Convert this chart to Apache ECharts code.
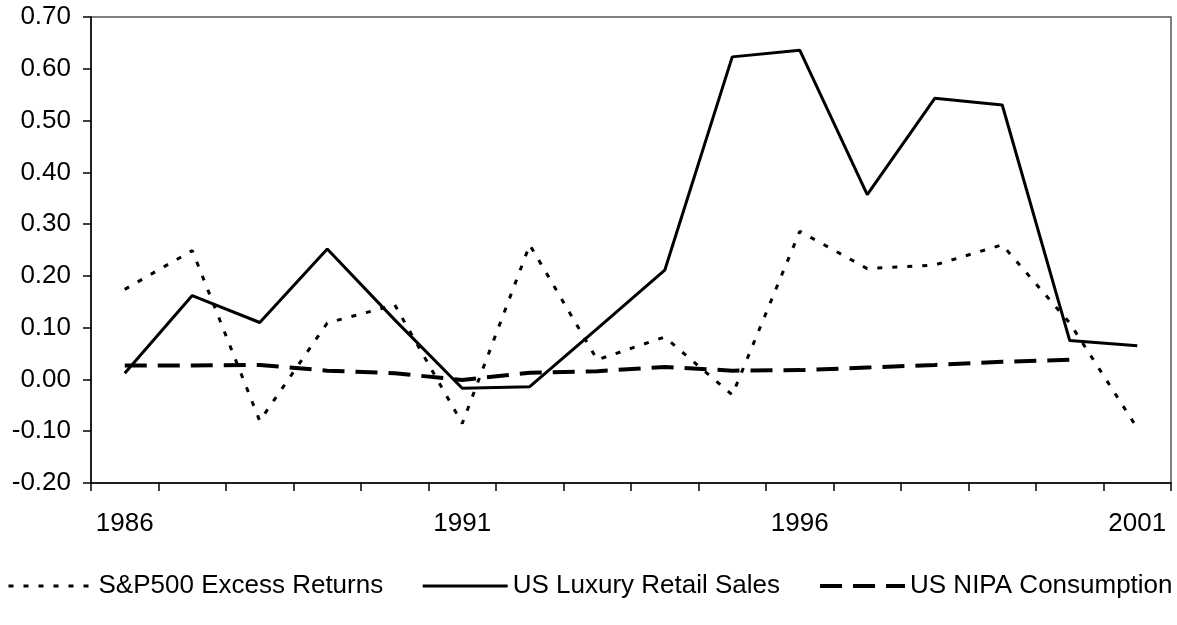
<!DOCTYPE html>
<html>
<head>
<meta charset="utf-8">
<title>Luxury sales vs returns</title>
<script src="https://cdn.jsdelivr.net/npm/echarts@6/dist/echarts.min.js"></script>
<style>
    html, body { margin: 0; padding: 0; background: #fff; }
    #main { width: 1177px; height: 625px; }
</style>
</head>
<body>
<div id="main"></div>
<script>
// ---- data
var years = ["1986","1987","1988","1989","1990","1991","1992","1993","1994","1995","1996","1997","1998","1999","2000","2001"];
var spExcess = [0.174, 0.249, -0.080, 0.109, 0.144, -0.085, 0.260, 0.038, 0.082, -0.030, 0.286, 0.214, 0.221, 0.260, 0.109, -0.094];
var luxurySales = [0.012, 0.162, 0.110, 0.252, 0.115, -0.017, -0.014, 0.098, 0.211, 0.623, 0.636, 0.357, 0.543, 0.530, 0.075, 0.065];
var nipaCons = [0.027, 0.027, 0.028, 0.017, 0.012, -0.001, 0.013, 0.016, 0.024, 0.017, 0.018, 0.023, 0.028, 0.034, 0.038, null];

var font = "'Liberation Sans', Arial, sans-serif";

// line styles, shared by series and legend
var dotStyle = { color: "#000", width: 3, type: [5, 10] };
var solidStyle = { color: "#000", width: 3, type: "solid" };
var dashStyle = { color: "#000", width: 4, type: [22, 11] };

var myChart = echarts.init(document.getElementById("main"));
var option = {
    animation: false,
    backgroundColor: "#fff",
    textStyle: { fontFamily: font, color: "#000" },
    grid: {
        left: 91, right: 6, top: 17, bottom: 142,
        show: true,
        borderColor: "#555",
        borderWidth: 1.5
    },
    legend: {
        left: 7,
        top: 573,
        width: 1170,
        padding: 0,
        itemWidth: 85,
        itemHeight: 14,
        itemGap: 38,
        itemStyle: { opacity: 0 },
        textStyle: { fontFamily: font, fontSize: 26, color: "#000" },
        data: [
            { name: "S&P500 Excess Returns", lineStyle: dotStyle },
            { name: "US Luxury Retail Sales", lineStyle: solidStyle },
            { name: "US NIPA Consumption", lineStyle: dashStyle }
        ]
    },
    xAxis: {
        type: "category",
        data: years,
        boundaryGap: true,
        axisLine: { onZero: false, lineStyle: { color: "#000", width: 1.5 } },
        axisTick: { show: true, interval: 0, length: 8, lineStyle: { color: "#000", width: 1.5 } },
        axisLabel: { interval: 4, margin: 28, fontSize: 26, color: "#000", fontFamily: font },
        splitLine: { show: false }
    },
    yAxis: {
        type: "value",
        min: -0.2,
        max: 0.7,
        interval: 0.1,
        axisLine: { show: true, lineStyle: { color: "#000", width: 1.5 } },
        axisTick: { show: true, length: 8, lineStyle: { color: "#000", width: 1.5 } },
        axisLabel: {
            margin: 20, fontSize: 26, color: "#000", fontFamily: font,
            formatter: function (v) { return v.toFixed(2); }
        },
        splitLine: { show: false }
    },
    series: [
        {
            name: "S&P500 Excess Returns",
            type: "line",
            data: spExcess,
            symbol: "none",
            color: "#000",
            lineStyle: dotStyle
        },
        {
            name: "US Luxury Retail Sales",
            type: "line",
            data: luxurySales,
            symbol: "none",
            color: "#000",
            lineStyle: solidStyle
        },
        {
            name: "US NIPA Consumption",
            type: "line",
            data: nipaCons,
            symbol: "none",
            color: "#000",
            lineStyle: dashStyle
        }
    ]
};
myChart.setOption(option);
</script>
</body>
</html>
